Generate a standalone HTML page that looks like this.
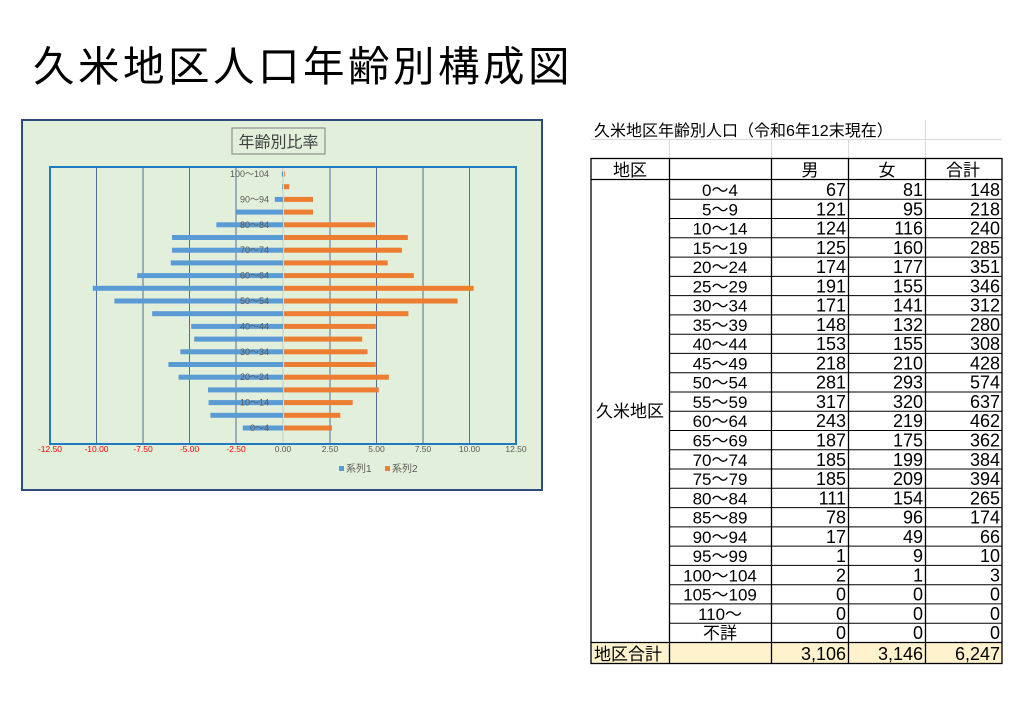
<!DOCTYPE html>
<html><head><meta charset="utf-8"><style>
html,body{margin:0;padding:0;background:#fff;}
svg{display:block;}
text{font-family:"Liberation Sans","Noto Sans CJK JP",sans-serif;}
</style></head><body>
<svg width="1024" height="709" viewBox="0 0 1024 709" xmlns="http://www.w3.org/2000/svg">
<text x="33" y="81" font-size="41.5" letter-spacing="3.5" fill="#000">久米地区人口年齢別構成図</text>

<!-- chart -->
<rect x="22" y="120" width="520" height="370" fill="#e2efda" stroke="#2f4b7c" stroke-width="2"/>
<rect x="232" y="128" width="93" height="26" fill="#e2efda" stroke="#7f7f7f" stroke-width="1"/>
<text x="278.5" y="147.5" font-size="16" text-anchor="middle" fill="#404040">年齢別比率</text>
<g stroke="#4f6f9c" stroke-width="1">
<line x1="96.5" y1="167" x2="96.5" y2="444"/><line x1="143" y1="167" x2="143" y2="444"/>
<line x1="189.5" y1="167" x2="189.5" y2="444"/><line x1="236" y1="167" x2="236" y2="444"/>
<line x1="330" y1="167" x2="330" y2="444"/><line x1="376.5" y1="167" x2="376.5" y2="444"/>
<line x1="423" y1="167" x2="423" y2="444"/><line x1="469.5" y1="167" x2="469.5" y2="444"/>
</g>
<line x1="283" y1="167" x2="283" y2="444" stroke="#c8c8c8"/>
<rect x="50" y="167" width="466" height="277" fill="none" stroke="#1f7ac0" stroke-width="2"/>
<g fill="#5b9bd5">
<rect x="242.8" y="425.5" width="40.2" height="5"/><rect x="210.4" y="412.8" width="72.6" height="5"/>
<rect x="208.6" y="400.1" width="74.4" height="5"/><rect x="208" y="387.4" width="75" height="5"/>
<rect x="178.6" y="374.7" width="104.4" height="5"/><rect x="168.4" y="362" width="114.6" height="5"/>
<rect x="180.4" y="349.3" width="102.6" height="5"/><rect x="194.2" y="336.6" width="88.8" height="5"/>
<rect x="191.2" y="323.9" width="91.8" height="5"/><rect x="152.2" y="311.2" width="130.8" height="5"/>
<rect x="114.4" y="298.5" width="168.6" height="5"/><rect x="92.8" y="285.8" width="190.2" height="5"/>
<rect x="137.2" y="273.1" width="145.8" height="5"/><rect x="170.8" y="260.4" width="112.2" height="5"/>
<rect x="172" y="247.7" width="111" height="5"/><rect x="172" y="235" width="111" height="5"/>
<rect x="216.4" y="222.3" width="66.6" height="5"/><rect x="236.2" y="209.6" width="46.8" height="5"/>
<rect x="274.8" y="196.9" width="8.2" height="5"/><rect x="282.2" y="184.2" width="0.8" height="5"/>
<rect x="281.8" y="171.5" width="1.2" height="5"/>
</g>
<g fill="#ed7d31">
<rect x="284" y="425.5" width="48" height="5"/><rect x="284" y="412.8" width="56.3" height="5"/>
<rect x="284" y="400.1" width="68.7" height="5"/><rect x="284" y="387.4" width="94.8" height="5"/>
<rect x="284" y="374.7" width="104.9" height="5"/><rect x="284" y="362" width="91.8" height="5"/>
<rect x="284" y="349.3" width="83.5" height="5"/><rect x="284" y="336.6" width="78.2" height="5"/>
<rect x="284" y="323.9" width="91.8" height="5"/><rect x="284" y="311.2" width="124.4" height="5"/>
<rect x="284" y="298.5" width="173.6" height="5"/><rect x="284" y="285.8" width="189.6" height="5"/>
<rect x="284" y="273.1" width="129.8" height="5"/><rect x="284" y="260.4" width="103.7" height="5"/>
<rect x="284" y="247.7" width="117.9" height="5"/><rect x="284" y="235" width="123.8" height="5"/>
<rect x="284" y="222.3" width="91.2" height="5"/><rect x="284" y="209.6" width="29" height="5"/>
<rect x="284" y="196.9" width="29" height="5"/><rect x="284" y="184.2" width="5.3" height="5"/>
<rect x="284" y="171.5" width="0.8" height="5"/>
</g>
<g font-size="9" fill="#595959" text-anchor="end">
<text x="269" y="431">0～4</text><text x="269" y="405.6">10～14</text><text x="269" y="380.2">20～24</text>
<text x="269" y="354.8">30～34</text><text x="269" y="329.4">40～44</text><text x="269" y="304">50～54</text>
<text x="269" y="278.6">60～64</text><text x="269" y="253.2">70～74</text><text x="269" y="227.8">80～84</text>
<text x="269" y="202.4">90～94</text><text x="269" y="177">100～104</text>
</g>
<g font-size="8.5" text-anchor="middle">
<text x="50" y="452" fill="#ff0000">-12.50</text><text x="96.5" y="452" fill="#ff0000">-10.00</text>
<text x="143" y="452" fill="#ff0000">-7.50</text><text x="189.5" y="452" fill="#ff0000">-5.00</text>
<text x="236" y="452" fill="#ff0000">-2.50</text><text x="283" y="452" fill="#595959">0.00</text>
<text x="330" y="452" fill="#595959">2.50</text><text x="376.5" y="452" fill="#595959">5.00</text>
<text x="423" y="452" fill="#595959">7.50</text><text x="469.5" y="452" fill="#595959">10.00</text>
<text x="516" y="452" fill="#595959">12.50</text>
</g>
<rect x="339" y="466" width="5" height="5" fill="#5b9bd5"/>
<text x="346" y="472" font-size="10" fill="#595959">系列1</text>
<rect x="385" y="466" width="5" height="5" fill="#ed7d31"/>
<text x="392" y="472" font-size="10" fill="#595959">系列2</text>

<!-- table -->
<g stroke="#d9d9d9" stroke-width="1">
<line x1="591" y1="139.5" x2="1002" y2="139.5"/>
<line x1="925.5" y1="120" x2="925.5" y2="158"/><line x1="669.5" y1="139" x2="669.5" y2="158"/>
<line x1="771.5" y1="139" x2="771.5" y2="158"/><line x1="848.5" y1="139" x2="848.5" y2="158"/>
</g>
<text x="594" y="136" font-size="16" fill="#000">久米地区年齢別人口（令和6年12末現在）</text>
<rect x="591" y="642.5" width="411" height="20.5" fill="#fff2cc"/>
<g stroke="#000" stroke-width="1.3" fill="none">
<rect x="591" y="158.5" width="411" height="505"/>
<line x1="591" y1="179.5" x2="1002" y2="179.5"/>
<line x1="591" y1="642.5" x2="1002" y2="642.5"/>
<line x1="669.5" y1="158" x2="669.5" y2="663"/>
<line x1="771.5" y1="158" x2="771.5" y2="663"/>
<line x1="848.5" y1="158" x2="848.5" y2="663"/>
<line x1="925.5" y1="158" x2="925.5" y2="663"/>
</g>
<g stroke="#000" stroke-width="1">
<line x1="669" y1="199.3" x2="1002" y2="199.3"/><line x1="669" y1="218.5" x2="1002" y2="218.5"/>
<line x1="669" y1="237.8" x2="1002" y2="237.8"/><line x1="669" y1="257.1" x2="1002" y2="257.1"/>
<line x1="669" y1="276.4" x2="1002" y2="276.4"/><line x1="669" y1="295.6" x2="1002" y2="295.6"/>
<line x1="669" y1="314.9" x2="1002" y2="314.9"/><line x1="669" y1="334.2" x2="1002" y2="334.2"/>
<line x1="669" y1="353.4" x2="1002" y2="353.4"/><line x1="669" y1="372.7" x2="1002" y2="372.7"/>
<line x1="669" y1="392" x2="1002" y2="392"/><line x1="669" y1="411.2" x2="1002" y2="411.2"/>
<line x1="669" y1="430.5" x2="1002" y2="430.5"/><line x1="669" y1="449.8" x2="1002" y2="449.8"/>
<line x1="669" y1="469" x2="1002" y2="469"/><line x1="669" y1="488.3" x2="1002" y2="488.3"/>
<line x1="669" y1="507.6" x2="1002" y2="507.6"/><line x1="669" y1="526.9" x2="1002" y2="526.9"/>
<line x1="669" y1="546.1" x2="1002" y2="546.1"/><line x1="669" y1="565.4" x2="1002" y2="565.4"/>
<line x1="669" y1="584.7" x2="1002" y2="584.7"/><line x1="669" y1="603.9" x2="1002" y2="603.9"/>
<line x1="669" y1="623.2" x2="1002" y2="623.2"/>
</g>
<g font-size="17" fill="#000" text-anchor="middle">
<text x="630" y="176">地区</text><text x="810" y="176">男</text><text x="887" y="176">女</text><text x="963" y="176">合計</text>
<text x="630" y="417">久米地区</text>
<text x="720" y="196">0～4</text><text x="720" y="215.3">5～9</text><text x="720" y="234.5">10～14</text>
<text x="720" y="253.8">15～19</text><text x="720" y="273.1">20～24</text><text x="720" y="292.4">25～29</text>
<text x="720" y="311.6">30～34</text><text x="720" y="330.9">35～39</text><text x="720" y="350.2">40～44</text>
<text x="720" y="369.4">45～49</text><text x="720" y="388.7">50～54</text><text x="720" y="408">55～59</text>
<text x="720" y="427.2">60～64</text><text x="720" y="446.5">65～69</text><text x="720" y="465.8">70～74</text>
<text x="720" y="485">75～79</text><text x="720" y="504.3">80～84</text><text x="720" y="523.6">85～89</text>
<text x="720" y="542.9">90～94</text><text x="720" y="562.1">95～99</text><text x="720" y="581.4">100～104</text>
<text x="720" y="600.7">105～109</text><text x="720" y="619.9">110～</text><text x="720" y="639.2">不詳</text>
</g>
<text x="594" y="660" font-size="17" fill="#000">地区合計</text>
<g font-size="18" fill="#000" text-anchor="end">
<text x="846" y="196">67</text><text x="923" y="196">81</text><text x="1000" y="196">148</text>
<text x="846" y="215.3">121</text><text x="923" y="215.3">95</text><text x="1000" y="215.3">218</text>
<text x="846" y="234.5">124</text><text x="923" y="234.5">116</text><text x="1000" y="234.5">240</text>
<text x="846" y="253.8">125</text><text x="923" y="253.8">160</text><text x="1000" y="253.8">285</text>
<text x="846" y="273.1">174</text><text x="923" y="273.1">177</text><text x="1000" y="273.1">351</text>
<text x="846" y="292.4">191</text><text x="923" y="292.4">155</text><text x="1000" y="292.4">346</text>
<text x="846" y="311.6">171</text><text x="923" y="311.6">141</text><text x="1000" y="311.6">312</text>
<text x="846" y="330.9">148</text><text x="923" y="330.9">132</text><text x="1000" y="330.9">280</text>
<text x="846" y="350.2">153</text><text x="923" y="350.2">155</text><text x="1000" y="350.2">308</text>
<text x="846" y="369.4">218</text><text x="923" y="369.4">210</text><text x="1000" y="369.4">428</text>
<text x="846" y="388.7">281</text><text x="923" y="388.7">293</text><text x="1000" y="388.7">574</text>
<text x="846" y="408">317</text><text x="923" y="408">320</text><text x="1000" y="408">637</text>
<text x="846" y="427.2">243</text><text x="923" y="427.2">219</text><text x="1000" y="427.2">462</text>
<text x="846" y="446.5">187</text><text x="923" y="446.5">175</text><text x="1000" y="446.5">362</text>
<text x="846" y="465.8">185</text><text x="923" y="465.8">199</text><text x="1000" y="465.8">384</text>
<text x="846" y="485">185</text><text x="923" y="485">209</text><text x="1000" y="485">394</text>
<text x="846" y="504.3">111</text><text x="923" y="504.3">154</text><text x="1000" y="504.3">265</text>
<text x="846" y="523.6">78</text><text x="923" y="523.6">96</text><text x="1000" y="523.6">174</text>
<text x="846" y="542.9">17</text><text x="923" y="542.9">49</text><text x="1000" y="542.9">66</text>
<text x="846" y="562.1">1</text><text x="923" y="562.1">9</text><text x="1000" y="562.1">10</text>
<text x="846" y="581.4">2</text><text x="923" y="581.4">1</text><text x="1000" y="581.4">3</text>
<text x="846" y="600.7">0</text><text x="923" y="600.7">0</text><text x="1000" y="600.7">0</text>
<text x="846" y="619.9">0</text><text x="923" y="619.9">0</text><text x="1000" y="619.9">0</text>
<text x="846" y="639.2">0</text><text x="923" y="639.2">0</text><text x="1000" y="639.2">0</text>
<text x="846" y="660">3,106</text><text x="923" y="660">3,146</text><text x="1000" y="660">6,247</text>
</g>
</svg>
</body></html>
